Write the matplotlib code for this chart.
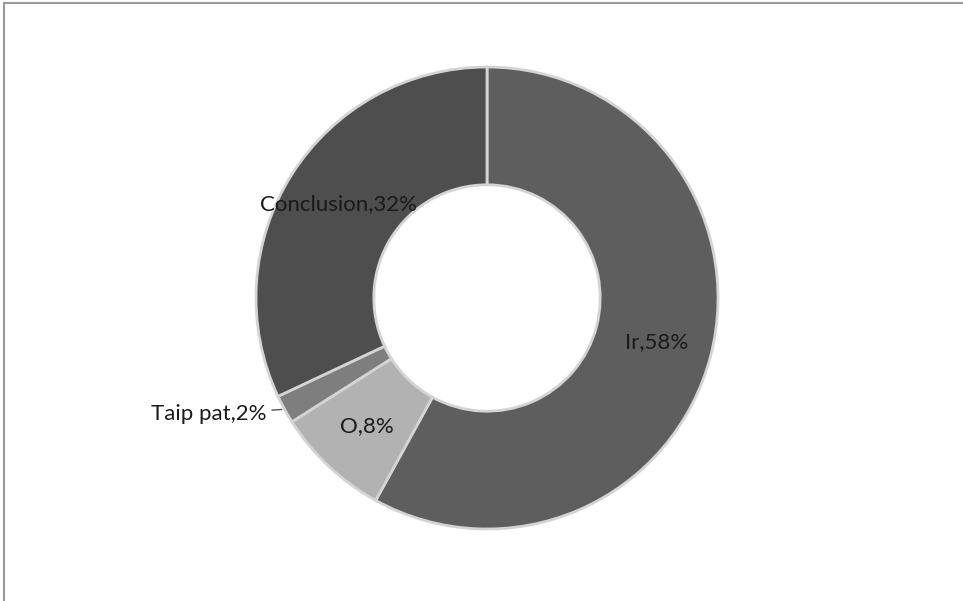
import numpy as np
import matplotlib
matplotlib.use("Agg")
import matplotlib.pyplot as plt

labels = ["Ir", "O", "Taip pat", "Conclusion"]
shares = [58, 8, 2, 32]
colors = ["#5e5e5e", "#b2b2b2", "#7e7e7e", "#4e4e4e"]

plt.rcParams['font.family'] = ['Lato', 'DejaVu Sans']

fig = plt.figure(figsize=(9.63, 6.01), dpi=100)
ax = fig.add_axes([0, 0, 1, 1])

cx, cy, R = 487, 303, 231
wedges, _ = ax.pie(shares, colors=colors, startangle=90, counterclock=False,
                   center=(cx, cy), radius=R, frame=True,
                   wedgeprops=dict(width=R * 0.51, edgecolor="#d4d4d4", linewidth=2))
ax.set_xlim(0, 963)
ax.set_ylim(0, 601)
ax.set_aspect('equal')
ax.axis('off')

for w, lab, val in zip(wedges, labels, shares):
    ang = np.deg2rad((w.theta1 + w.theta2) / 2)
    txt = f"{lab},{val}%"
    if val < 5:
        ex, ey = cx + R * np.cos(ang), cy + R * np.sin(ang)
        tx, ty = cx + 1.09 * R * np.cos(ang), cy + 1.09 * R * np.sin(ang)
        ax.annotate(txt, xy=(ex, ey), xytext=(tx, ty + 5), ha='right', va='center',
                    fontsize=16, color="#1a1a1a",
                    arrowprops=dict(arrowstyle='-', color="#555555", lw=1))
    else:
        tx, ty = cx + 0.76 * R * np.cos(ang), cy + 0.76 * R * np.sin(ang)
        ax.text(tx, ty, txt, ha='center', va='center', fontsize=16, color="#1a1a1a")

# chart frame (only top and left edges visible)
fig.add_artist(plt.Line2D([4 / 963, 4 / 963], [0, 1 - 3 / 601], color="#9a9a9a", lw=1.5))
fig.add_artist(plt.Line2D([4 / 963, 1], [1 - 3 / 601, 1 - 3 / 601], color="#9a9a9a", lw=1.5))

fig.savefig("out.png", dpi=100, facecolor="white")
